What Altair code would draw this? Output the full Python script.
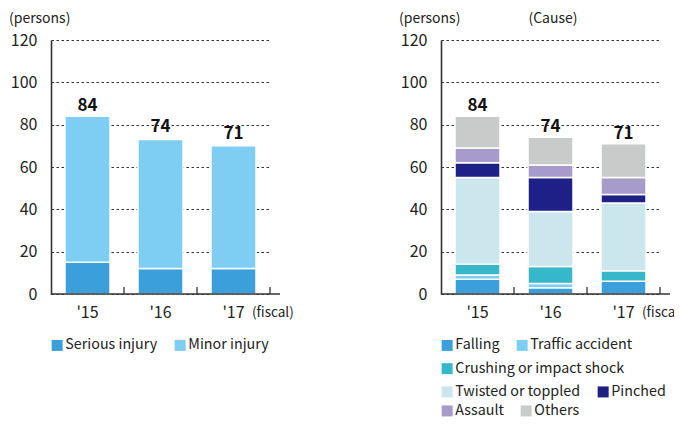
import altair as alt
import pandas as pd

# ---------------- data ----------------
years = ["'15", "'16", "'17"]
totals = [84, 74, 71]

injury_types = ["Serious injury", "Minor injury"]
injury_colors = ["#3a9fda", "#7ecef3"]
serious = [15, 12, 12]
minor = [69, 61, 58]

causes = ["Falling", "Traffic accident", "Crushing or impact shock",
          "Twisted or toppled", "Pinched", "Assault", "Others"]
cause_colors = ["#3a9fda", "#7ecef3", "#36b8ca", "#cbe7ed", "#1e2088", "#a79bcb", "#c9caca"]
falling = [7, 3, 6]
traffic = [2, 2, 0]
crushing = [5, 8, 5]
twisted = [41, 26, 32]
pinched = [7, 16, 4]
assault = [7, 6, 8]
others = [15, 13, 16]

legend_rows = [["Falling", "Traffic accident"],
               ["Crushing or impact shock"],
               ["Twisted or toppled", "Pinched"],
               ["Assault", "Others"]]

y_ticks = [0, 20, 40, 60, 80, 100, 120]
unit_label = "(persons)"
cause_label = "(Cause)"
fiscal_label = "(fiscal)"

FONT = "Noto Sans CJK JP"
W, H = 229, 254
BAND_RANGE = 219

# ---------------- tables ----------------
left_rows = []
for i, y in enumerate(years):
    left_rows.append({"year": y, "type": "Serious injury", "value": serious[i], "ord": 0})
    left_rows.append({"year": y, "type": "Minor injury", "value": minor[i], "ord": 1})
left_df = pd.DataFrame(left_rows)

cause_series = [falling, traffic, crushing, twisted, pinched, assault, others]
right_rows = []
for i, y in enumerate(years):
    for k, c in enumerate(causes):
        right_rows.append({"year": y, "cause": c, "value": cause_series[k][i], "ord": k})
right_df = pd.DataFrame(right_rows)

tot_df = pd.DataFrame({"year": years, "total": totals})
one = pd.DataFrame({"a": [0]})

x_scale = alt.Scale(domain=years, range=[0, BAND_RANGE], paddingInner=0, paddingOuter=0)
y_scale = alt.Scale(domain=[0, 120])
x_axis = alt.Axis(title=None, ticks=False, tickSize=0, domain=False, grid=False,
                  labelAngle=0, labelPadding=10, labelFontSize=16)
y_axis = alt.Axis(title=None, values=y_ticks, ticks=False, tickSize=0, domain=True,
                  grid=True, labelPadding=14, minExtent=43, maxExtent=43, labelFontSize=16)


def x_enc(**kw):
    return alt.X("year:N", scale=x_scale, axis=x_axis, sort=years, **kw)


def legend(ly):
    return alt.Legend(title=None, orient="none", legendX=-1, legendY=ly,
                      direction="horizontal", symbolType="square", symbolSize=121,
                      symbolStrokeWidth=0, labelFontSize=14.3, labelFont=FONT,
                      labelOffset=1, columnPadding=15, padding=0, labelColor="#222",
                      labelLimit=400)


def decorations(chart_texts):
    ticks = alt.Chart(tot_df).mark_rule(color="#333", strokeWidth=1.3).encode(
        x=x_enc(bandPosition=1), y=alt.value(H - 7), y2=alt.value(H))
    base_line = alt.Chart(one).mark_rule(color="#333", strokeWidth=1.6).encode(
        x=alt.value(0), x2=alt.value(W), y=alt.value(H))
    labels = alt.Chart(tot_df).mark_text(fontWeight="bold", fontSize=17, font=FONT,
                                         dy=-10, baseline="middle", color="#111").encode(
        x=x_enc(), y=alt.Y("total:Q", scale=y_scale, axis=y_axis), text="total:Q")
    texts = []
    for txt, xv, yv, al, fs in chart_texts:
        texts.append(alt.Chart(one).mark_text(align=al, baseline="middle", fontSize=fs,
                                              font=FONT, color="#222").encode(
            x=alt.value(xv), y=alt.value(yv), text=alt.value(txt)))
    return [ticks, base_line, labels] + texts


# ---------------- left chart ----------------
left_bars = alt.Chart(left_df).mark_bar(size=45, stroke="white", strokeWidth=1.5).encode(
    x=x_enc(),
    y=alt.Y("value:Q", stack="zero", scale=y_scale, axis=y_axis),
    color=alt.Color("type:N", scale=alt.Scale(domain=injury_types, range=injury_colors),
                    legend=legend(298)),
    order=alt.Order("ord:Q"),
)
left = alt.layer(left_bars, *decorations([
    (unit_label, -42, -21, "left", 14),
    (fiscal_label, 201, H + 19, "left", 13.5),
])).properties(width=W, height=H)

# ---------------- right chart ----------------
row_y = [298, 321.5, 344.5, 363.5]
stacked = alt.Chart(right_df).transform_stack(
    stack="value", groupby=["year"], as_=["y0", "y1"],
    sort=[alt.SortField("ord", order="ascending")])
right_layers = []
for r, group in enumerate(legend_rows):
    cols = [cause_colors[causes.index(g)] for g in group]
    right_layers.append(
        stacked.transform_filter(alt.FieldOneOfPredicate(field="cause", oneOf=group))
        .mark_bar(size=45, stroke="white", strokeWidth=1.5)
        .encode(
            x=x_enc(),
            y=alt.Y("y0:Q", scale=y_scale, axis=y_axis),
            y2="y1:Q",
            color=alt.Color("cause:N", scale=alt.Scale(domain=group, range=cols),
                            legend=legend(row_y[r])),
        )
    )
right = alt.layer(*right_layers, *decorations([
    (unit_label, -42, -21, "left", 14),
    (cause_label, 112, -21, "center", 14),
    (fiscal_label, 201, H + 19, "left", 13.5),
])).resolve_scale(color="independent").properties(width=W, height=H)

chart = alt.hconcat(left, right, spacing=161, bounds="flush").resolve_scale(
    color="independent"
).properties(padding={"left": 0, "top": 4, "right": -10, "bottom": -1}).configure_view(
    strokeWidth=0
).configure_axis(
    labelFont=FONT, labelColor="#222", domainColor="#333", domainWidth=1.6,
    gridColor="#333", gridDash=[2.5, 2.5], gridWidth=1,
)

chart.save("out.html", embed_options={"renderer": "svg", "actions": False})
